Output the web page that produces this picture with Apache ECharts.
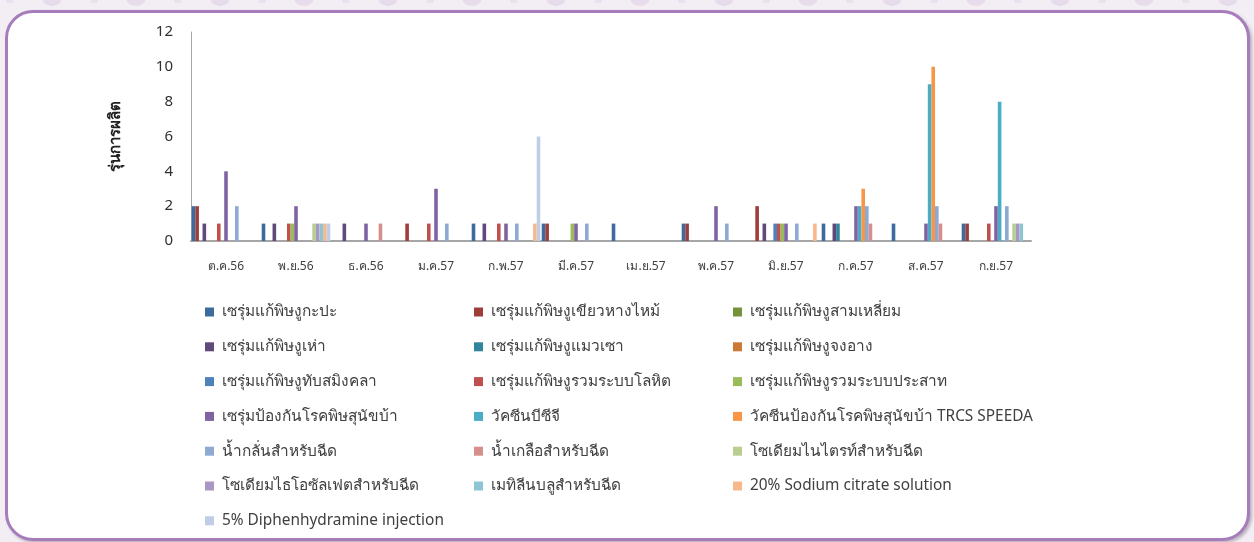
<!DOCTYPE html>
<html>
<head>
<meta charset="utf-8">
<script src="https://cdn.jsdelivr.net/npm/echarts@6/dist/echarts.min.js"></script>
<style>
  html, body { margin:0; padding:0; width:1254px; height:542px; overflow:hidden; }
  body {
    background-color:#F2EEF4;
    background-image: radial-gradient(ellipse 16px 10px at 50% 30%, #E6DCEB 55%, transparent 60%),
                      radial-gradient(ellipse 7px 6px at 50% 30%, #EAE1EE 55%, transparent 60%);
    background-size: 84px 20px, 42px 20px;
    background-repeat: repeat-x;
    background-position: 10px -6px, 31px -6px;
  }
  #frame {
    position:absolute; left:5px; top:10px; width:1239px; height:525px;
    background:#ffffff; border:3px solid #A67CBA; border-radius:28px;
    box-shadow: 2px 2px 3px rgba(80,60,90,0.35);
  }
  #chart { position:absolute; left:0; top:0; width:1254px; height:542px; }
</style>
</head>
<body>
<div id="frame"></div>
<div id="chart"></div>
<script>
const categories = ['ต.ค.56','พ.ย.56','ธ.ค.56','ม.ค.57','ก.พ.57','มี.ค.57','เม.ย.57','พ.ค.57','มิ.ย.57','ก.ค.57','ส.ค.57','ก.ย.57'];

const seriesNames = [
  'เซรุ่มแก้พิษงูกะปะ',
  'เซรุ่มแก้พิษงูเขียวหางไหม้',
  'เซรุ่มแก้พิษงูสามเหลี่ยม',
  'เซรุ่มแก้พิษงูเห่า',
  'เซรุ่มแก้พิษงูแมวเซา',
  'เซรุ่มแก้พิษงูจงอาง',
  'เซรุ่มแก้พิษงูทับสมิงคลา',
  'เซรุ่มแก้พิษงูรวมระบบโลหิต',
  'เซรุ่มแก้พิษงูรวมระบบประสาท',
  'เซรุ่มป้องกันโรคพิษสุนัขบ้า',
  'วัคซีนบีซีจี',
  'วัคซีนป้องกันโรคพิษสุนัขบ้า TRCS SPEEDA',
  'น้ำกลั่นสำหรับฉีด',
  'น้ำเกลือสำหรับฉีด',
  'โซเดียมไนไตรท์สำหรับฉีด',
  'โซเดียมไธโอซัลเฟตสำหรับฉีด',
  'เมทิลีนบลูสำหรับฉีด',
  '20% Sodium citrate solution',
  '5% Diphenhydramine injection'
];

const kapa          = [2,1,0,0,1,1,1,1,0,1,1,1];
const khiaoHangMai  = [2,0,0,1,0,1,0,1,2,0,0,1];
const samLiam       = [0,0,0,0,0,0,0,0,0,0,0,0];
const hao           = [1,1,1,0,1,0,0,0,1,1,0,0];
const maeoSao       = [0,0,0,0,0,0,0,0,0,1,0,0];
const chongAng      = [0,0,0,0,0,0,0,0,0,0,0,0];
const thapSamingkhla= [0,0,0,0,0,0,0,0,1,0,0,0];
const ruamLohit     = [1,1,0,1,1,0,0,0,1,0,0,1];
const ruamPrasat    = [0,1,0,0,0,1,0,0,1,0,0,0];
const rabiesSerum   = [4,2,1,3,1,1,0,2,1,2,1,2];
const bcg           = [0,0,0,0,0,0,0,0,0,2,9,8];
const trcsSpeeda    = [0,0,0,0,0,0,0,0,0,3,10,0];
const distilledWater= [2,0,0,1,1,1,0,1,1,2,2,2];
const saline        = [0,0,1,0,0,0,0,0,0,1,1,0];
const sodiumNitrite = [0,1,0,0,0,0,0,0,0,0,0,1];
const thiosulfate   = [0,1,0,0,0,0,0,0,0,0,0,1];
const methyleneBlue = [0,1,0,0,0,0,0,0,0,0,0,1];
const sodiumCitrate = [0,1,0,0,1,0,0,0,1,0,0,0];
const diphenhydramine=[0,1,0,0,6,0,0,0,0,0,0,0];

const seriesValues = [kapa, khiaoHangMai, samLiam, hao, maeoSao, chongAng, thapSamingkhla,
  ruamLohit, ruamPrasat, rabiesSerum, bcg, trcsSpeeda, distilledWater, saline,
  sodiumNitrite, thiosulfate, methyleneBlue, sodiumCitrate, diphenhydramine];

const yTicks = [0,2,4,6,8,10,12];

const colors = ['#3E6B9E','#9E3D3A','#76923C','#604A7B','#31859C','#CB7A35',
  '#4F81BD','#C0504D','#9BBB59','#8064A2','#4BACC6','#F79646',
  '#8EAAD2','#D58F8D','#B9CF92','#A897C2','#8CC6D6','#F8B889','#C0CDE6'];

const chart = echarts.init(document.getElementById('chart'), null, {renderer:'canvas'});

const FONT = "'Noto Sans', 'Open Sans', sans-serif";

const series = seriesNames.map((n, i) => ({
  name: n, type: 'bar', data: seriesValues[i],
  itemStyle: { color: colors[i] },
  barGap: '0%', barCategoryGap: '2%',
  emphasis: { disabled: true }
}));

function legendFor(col, left) {
  return {
    orient: 'vertical', left: left, top: 302, padding: 0,
    itemWidth: 9, itemHeight: 9, itemGap: 14.8,
    icon: 'rect',
    data: seriesNames.filter((_, i) => i % 3 === col),
    textStyle: { fontFamily: FONT, fontSize: 15.4, color: '#404040', lineHeight: 20, padding: [0,0,0,3] },
    selectedMode: false
  };
}

chart.setOption({
  animation: false,
  backgroundColor: 'transparent',
  color: colors,
  grid: { left: 191, right: 223, top: 32, bottom: 301, containLabel: false },
  xAxis: {
    type: 'category', data: categories,
    axisLine: { show: true, lineStyle: { color: '#A6A6A6', width: 2 } },
    axisTick: { show: false },
    axisLabel: { fontFamily: FONT, fontSize: 12, color: '#404040', margin: 20 }
  },
  yAxis: {
    type: 'value', min: yTicks[0], max: yTicks[yTicks.length-1], interval: 2,
    name: 'รุ่นการผลิต', nameLocation: 'middle', nameGap: 68, nameRotate: 90,
    nameTextStyle: { fontFamily: FONT, fontSize: 15, fontWeight: 'bold', color: '#202020' },
    axisLine: { show: true, lineStyle: { color: '#A6A6A6', width: 1 } },
    axisTick: { show: false },
    splitLine: { show: false },
    axisLabel: { fontFamily: FONT, fontSize: 15, color: '#303030', margin: 18 }
  },
  legend: [legendFor(0, 205), legendFor(1, 474), legendFor(2, 733)],
  series: series
});
</script>
</body>
</html>
